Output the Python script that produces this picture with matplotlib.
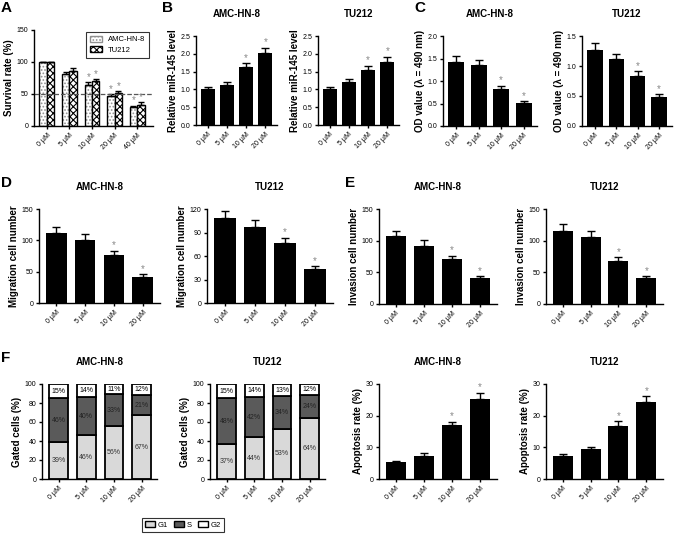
import numpy as np
import matplotlib.pyplot as plt
from matplotlib.patches import Patch

plt.rcParams['font.family'] = ['Liberation Sans', 'DejaVu Sans']
plt.rcParams['hatch.linewidth'] = 0.8

doses4 = ['0 µM', '5 µM', '10 µM', '20 µM']
doses5 = ['0 µM', '5 µM', '10 µM', '20 µM', '40 µM']

# A - survival rate
surv_amc = [100, 81, 64, 47, 29]
surv_amc_err = [0, 4, 4, 3, 3]
surv_tu = [100, 86, 70, 51, 33]
surv_tu_err = [0, 4, 3, 3, 4]

# B - relative miR-145 level
mir_amc = [1.0, 1.12, 1.63, 2.03]
mir_amc_err = [0.08, 0.10, 0.10, 0.14]
mir_tu = [1.0, 1.20, 1.55, 1.78]
mir_tu_err = [0.08, 0.10, 0.12, 0.13]

# C - OD value
od_amc = [1.42, 1.35, 0.83, 0.52]
od_amc_err = [0.13, 0.12, 0.07, 0.03]
od_tu = [1.27, 1.11, 0.84, 0.49]
od_tu_err = [0.11, 0.09, 0.07, 0.04]

# D - migration
mig_amc = [112, 101, 76, 42]
mig_amc_err = [10, 9, 7, 4]
mig_tu = [108, 97, 76, 43]
mig_tu_err = [10, 9, 7, 4]

# E - invasion
inv_amc = [108, 92, 71, 41]
inv_amc_err = [8, 9, 5, 3]
inv_tu = [116, 106, 68, 41]
inv_tu_err = [10, 9, 6, 3]

# F - cell cycle
g1_amc = [39, 46, 56, 67]
s_amc = [46, 40, 33, 21]
g2_amc = [15, 14, 11, 12]
g1_tu = [37, 44, 53, 64]
s_tu = [48, 42, 34, 24]
g2_tu = [15, 14, 13, 12]

# F - apoptosis
apo_amc = [5.3, 7.4, 17.0, 25.4]
apo_amc_err = [0.4, 0.7, 1.1, 1.9]
apo_tu = [7.2, 9.4, 16.8, 24.2]
apo_tu_err = [0.6, 0.8, 1.4, 1.9]

W, H = 674, 534
fig = plt.figure(figsize=(W / 100, H / 100), dpi=100)


def px_axes(l, r, t, b):
    return fig.add_axes([l / W, 1 - b / H, (r - l) / W, (b - t) / H])


def style(ax):
    for s in ['top', 'right']:
        ax.spines[s].set_visible(False)
    for s in ['left', 'bottom']:
        ax.spines[s].set_linewidth(1.0)
    ax.tick_params(width=1.0, length=2.5, labelsize=5, pad=1.5)


def set_xlabels(ax, labels):
    ax.set_xticks(np.arange(len(labels)))
    ax.set_xticklabels(labels, rotation=45, ha='right', rotation_mode='anchor')


def bar_panel(ax, vals, errs, ymax, yticks, ylabel, title, fmt=None):
    x = np.arange(len(vals))
    ax.bar(x, vals, width=0.72, color='black')
    ax.errorbar(x, vals, yerr=[np.zeros(len(vals)), errs], fmt='none', ecolor='black',
                elinewidth=1, capsize=3, capthick=1)
    for i in (2, 3):
        ax.text(i, vals[i] + errs[i] + ymax * 0.005, '*', ha='center', va='bottom',
                fontsize=7, color='#888888')
    ax.set_xlim(-0.6, 3.6)
    ax.set_ylim(0, ymax)
    ax.set_yticks(yticks)
    if fmt:
        ax.set_yticklabels([fmt.format(v) for v in yticks])
    set_xlabels(ax, doses4)
    ax.set_ylabel(ylabel, fontsize=7, fontweight='bold', labelpad=2)
    ax.set_title(title, fontsize=7, fontweight='bold', pad=14)
    style(ax)


# ---- A ----
axA = px_axes(34, 153, 30, 126)
x = np.arange(5)
bw = 0.33
axA.bar(x - bw / 2, surv_amc, width=bw, color='white', edgecolor='#909090', hatch='.....', linewidth=0)
axA.bar(x - bw / 2, surv_amc, width=bw, fill=False, edgecolor='black', linewidth=1)
axA.bar(x + bw / 2, surv_tu, width=bw, color='white', edgecolor='black', hatch='xxxxx', linewidth=1)
axA.errorbar(x - bw / 2, surv_amc, yerr=[np.zeros(5), surv_amc_err], fmt='none', ecolor='black',
             elinewidth=1, capsize=2, capthick=1)
axA.errorbar(x + bw / 2, surv_tu, yerr=[np.zeros(5), surv_tu_err], fmt='none', ecolor='black',
             elinewidth=1, capsize=2, capthick=1)
for i in (2, 3, 4):
    axA.text(i - bw / 2, surv_amc[i] + surv_amc_err[i] + 0.5, '*', ha='center', va='bottom', fontsize=7, color='#888888')
    axA.text(i + bw / 2, surv_tu[i] + surv_tu_err[i] + 0.5, '*', ha='center', va='bottom', fontsize=7, color='#888888')
axA.axhline(50, color='#555555', linestyle='--', linewidth=0.9)
axA.set_xlim(-0.57, 4.7)
axA.set_ylim(0, 150)
axA.set_yticks([0, 50, 100, 150])
set_xlabels(axA, doses5)
axA.set_ylabel('Survival rate (%)', fontsize=7, fontweight='bold', labelpad=2)
style(axA)
legA = axA.legend(handles=[Patch(facecolor='white', edgecolor='#909090', hatch='.....'),
                           Patch(facecolor='white', edgecolor='black', hatch='xxxxx')],
                  labels=['AMC-HN-8', 'TU212'], loc='upper right', bbox_to_anchor=(1.0, 1.02),
                  fontsize=5.5, frameon=True, fancybox=False, edgecolor='black',
                  handlelength=1.6, handleheight=0.8, borderpad=0.5, labelspacing=0.4)
legA.get_frame().set_linewidth(0.8)

# ---- B ----
bar_panel(px_axes(196, 277, 36, 125), mir_amc, mir_amc_err, 2.5, [0, 0.5, 1.0, 1.5, 2.0, 2.5],
          'Relative miR-145 level', 'AMC-HN-8', '{:.1f}')
bar_panel(px_axes(318, 399, 36, 125), mir_tu, mir_tu_err, 2.5, [0, 0.5, 1.0, 1.5, 2.0, 2.5],
          'Relative miR-145 level', 'TU212', '{:.1f}')

# ---- C ----
bar_panel(px_axes(443, 537, 36, 126), od_amc, od_amc_err, 2.0, [0, 0.5, 1.0, 1.5, 2.0],
          'OD value (λ = 490 nm)', 'AMC-HN-8', '{:.1f}')
bar_panel(px_axes(582, 672, 36, 126), od_tu, od_tu_err, 1.5, [0, 0.5, 1.0, 1.5],
          'OD value (λ = 490 nm)', 'TU212', '{:.1f}')

# ---- D ----
bar_panel(px_axes(39, 160, 209, 303), mig_amc, mig_amc_err, 150, [0, 50, 100, 150],
          'Migration cell number', 'AMC-HN-8')
bar_panel(px_axes(207, 333, 209, 303), mig_tu, mig_tu_err, 120, [0, 30, 60, 90, 120],
          'Migration cell number', 'TU212')

# ---- E ----
bar_panel(px_axes(379, 497, 209, 304), inv_amc, inv_amc_err, 150, [0, 50, 100, 150],
          'Invasion cell number', 'AMC-HN-8')
bar_panel(px_axes(546, 663, 209, 304), inv_tu, inv_tu_err, 150, [0, 50, 100, 150],
          'Invasion cell number', 'TU212')


# ---- F cell cycle ----
def cycle_panel(ax, g1, s, g2, title):
    x = np.arange(4)
    g1 = np.array(g1)
    s = np.array(s)
    g2 = np.array(g2)
    kw = dict(width=0.68, edgecolor='black', linewidth=1.3)
    ax.bar(x, g1, color='#d9d9d9', **kw)
    ax.bar(x, s, bottom=g1, color='#5a5a5a', **kw)
    ax.bar(x, g2, bottom=g1 + s, color='white', **kw)
    for i in x:
        ax.text(i, g1[i] / 2, f'{g1[i]}%', ha='center', va='center', fontsize=5, color='#333333')
        ax.text(i, g1[i] + s[i] / 2, f'{s[i]}%', ha='center', va='center', fontsize=5, color='#222222')
        ax.text(i, g1[i] + s[i] + g2[i] / 2, f'{g2[i]}%', ha='center', va='center', fontsize=5, color='black')
    ax.set_xlim(-0.6, 3.55)
    ax.set_ylim(0, 100)
    ax.set_yticks([0, 20, 40, 60, 80, 100])
    set_xlabels(ax, doses4)
    ax.set_ylabel('Gated cells (%)', fontsize=7, fontweight='bold', labelpad=2)
    ax.set_title(title, fontsize=7, fontweight='bold', pad=14)
    style(ax)


cycle_panel(px_axes(42, 157, 384, 479), g1_amc, s_amc, g2_amc, 'AMC-HN-8')
cycle_panel(px_axes(210, 325, 384, 479), g1_tu, s_tu, g2_tu, 'TU212')

bar_panel(px_axes(379, 497, 384, 479), apo_amc, apo_amc_err, 30, [0, 10, 20, 30],
          'Apoptosis rate (%)', 'AMC-HN-8')
bar_panel(px_axes(546, 663, 384, 479), apo_tu, apo_tu_err, 30, [0, 10, 20, 30],
          'Apoptosis rate (%)', 'TU212')

legF = fig.legend(handles=[Patch(facecolor='#d9d9d9', edgecolor='black'),
                           Patch(facecolor='#5a5a5a', edgecolor='black'),
                           Patch(facecolor='white', edgecolor='black')],
                  labels=['G1', 'S', 'G2'], ncol=3, loc='center',
                  bbox_to_anchor=(183 / W, 1 - 525 / H), fontsize=5.5, frameon=True,
                  fancybox=False, edgecolor='black', handlelength=1.3, handleheight=0.8,
                  columnspacing=0.8, handletextpad=0.4, borderpad=0.4)
legF.get_frame().set_linewidth(0.8)

# panel letters
for lab, px, py in [('A', 1, 1), ('B', 162, 1), ('C', 414, 1), ('D', 1, 176), ('E', 345, 176), ('F', 1, 351)]:
    fig.text(px / W, 1 - py / H, lab, fontsize=11, fontweight='bold', va='top', ha='left')

fig.savefig('out.png', dpi=100)
